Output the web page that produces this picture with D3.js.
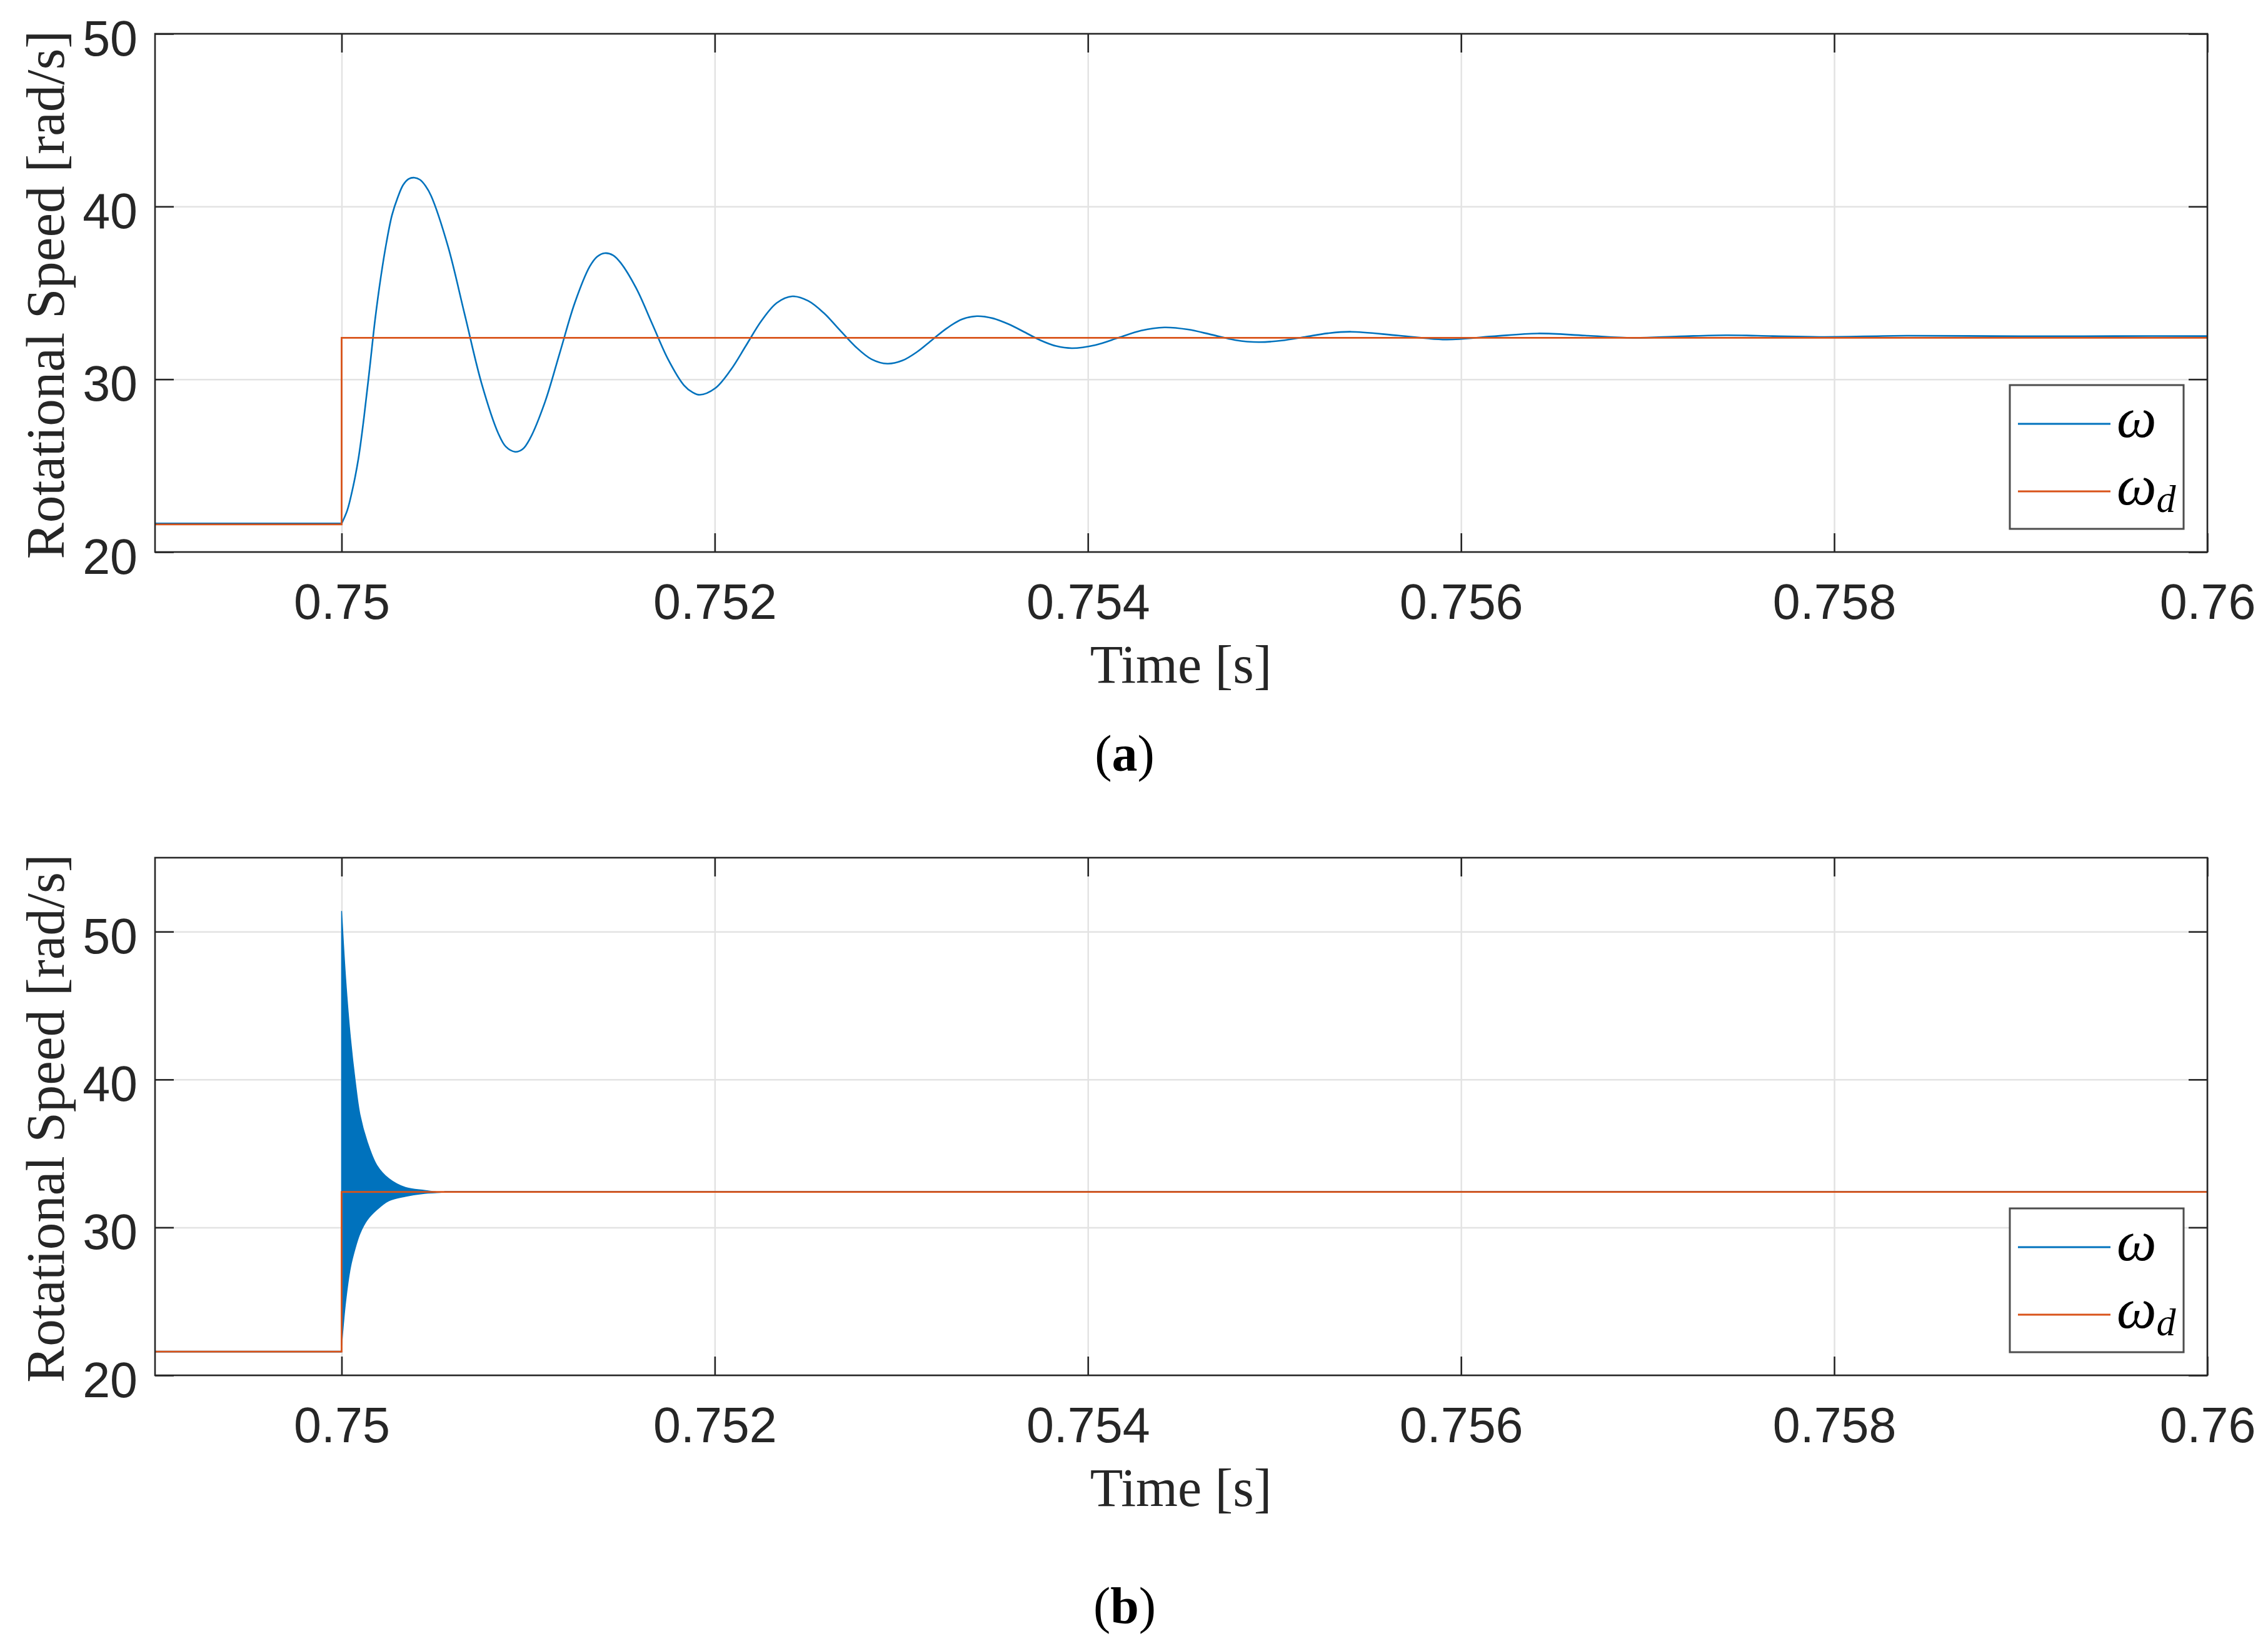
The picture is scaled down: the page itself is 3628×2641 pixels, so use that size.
<!DOCTYPE html>
<html>
<head>
<meta charset="utf-8">
<script src="https://cdn.jsdelivr.net/npm/d3@7"></script>
<style>
  html, body { margin: 0; padding: 0; background: #ffffff; }
  svg { display: block; }
</style>
</head>
<body>
<div id="chart"></div>
<script>
// ---------------- DATA ----------------
const timeTicks = [0.75, 0.752, 0.754, 0.756, 0.758, 0.76];
const timeTickLabels = ["0.75", "0.752", "0.754", "0.756", "0.758", "0.76"];
const speedTicksA = [20, 30, 40, 50];
const speedTicksB = [20, 30, 40, 50];
const seriesNames = ["\u03c9", "\u03c9d"];

const timeA = [0.749, 0.75,
  0.75003, 0.75006, 0.75009, 0.75012, 0.75015, 0.75018, 0.75021, 0.75024, 0.75027, 0.7503, 0.75033, 0.75036, 0.75039,
  0.75042, 0.75045, 0.75048, 0.75057, 0.75066, 0.75075, 0.75084, 0.75088, 0.75093,
  0.75097, 0.75101, 0.75109, 0.75117, 0.75125, 0.75133, 0.75137, 0.75141,
  0.751455, 0.751495, 0.75158, 0.751665, 0.75175, 0.751835, 0.75188, 0.75192,
  0.7520025, 0.752085, 0.7521675, 0.75225, 0.7523325, 0.752415,
  0.7525, 0.752585, 0.75267, 0.752755, 0.75284, 0.752925,
  0.753005, 0.753085, 0.753165, 0.753245, 0.753325, 0.753405,
  0.75349, 0.753575, 0.75366, 0.753745, 0.75383, 0.753915,
  0.75404, 0.754163, 0.754286, 0.75441,
  0.754536, 0.754663, 0.754789, 0.754915,
  0.755039, 0.755163, 0.755286, 0.75541,
  0.755665, 0.75592, 0.756165, 0.75641, 0.756665, 0.75692,
  0.75717, 0.75742, 0.75767, 0.75792, 0.7584, 0.759, 0.7595, 0.76];
const omegaA = [21.65, 21.65,
  22.4, 23.7, 25.4, 27.8, 30.6, 33.5, 35.9, 37.9, 39.5, 40.5, 41.25, 41.6, 41.67,
  41.55, 41.19, 40.61, 37.7, 33.74, 29.77, 26.86, 26.1, 25.8,
  25.95, 26.57, 28.68, 31.55, 34.43, 36.53, 37.1, 37.3,
  37.18, 36.75, 35.25, 33.2, 31.15, 29.65, 29.25, 29.1,
  29.48, 30.53, 31.95, 33.38, 34.42, 34.8,
  34.54, 33.83, 32.85, 31.88, 31.16, 30.9,
  31.08, 31.59, 32.28, 32.96, 33.47, 33.65,
  33.53, 33.19, 32.73, 32.26, 31.92, 31.8,
  31.98, 32.4, 32.82, 33.0,
  32.88, 32.58, 32.27, 32.15,
  32.24, 32.45, 32.66, 32.75,
  32.53, 32.3, 32.48, 32.65, 32.53, 32.4,
  32.48, 32.55, 32.5, 32.45, 32.52, 32.49, 32.5, 32.5];

// Reference speed omega_d (both panels)
const timeRef = [0.749, 0.75, 0.75, 0.76];
const omegaRef = [21.6, 21.6, 32.4, 32.4];

// Panel (b): envelope of the fast oscillation of omega
const timeEnvB = [0.75, 0.7500218, 0.7500475, 0.750073, 0.7500988, 0.750137, 0.750189,
  0.750253, 0.750342, 0.750445, 0.75051, 0.75055];
const upperB = [51.4, 46.8, 42.8, 39.9, 37.6, 35.8, 34.2, 33.3, 32.7, 32.5, 32.4, 32.4];
const lowerB = [22.0, 25.0, 27.3, 28.6, 29.6, 30.5, 31.2, 31.8, 32.1, 32.3, 32.35, 32.4];
// omega outside the envelope (null = inside the oscillating band)
const timeB = [0.749, 0.75, 0.75, 0.75055, 0.76];
const omegaB = [21.6, 21.6, null, 32.4, 32.4];

// ---------------- LAYOUT ----------------
const W = 3628, H = 2641;
const left = 248, right = 3531;
const BLUE = "#0072BD", ORANGE = "#D95319", AXC = "#262626";

const svg = d3.select("#chart").append("svg")
  .attr("width", W).attr("height", H)
  .attr("viewBox", `0 0 ${W} ${H}`);
svg.append("rect").attr("width", W).attr("height", H).attr("fill", "#fff");

const x = d3.scaleLinear().domain([0.749, 0.76]).range([left, right]);

const panels = [
  { top: 54, bottom: 883, domain: [20, 50], ticks: speedTicksA, cap: "a", capY: 1233, xlabY: 1092 },
  { top: 1372, bottom: 2200, domain: [20, 55], ticks: speedTicksB, cap: "b", capY: 2596, xlabY: 2409 }
];

panels.forEach((p, i) => {
  const y = d3.scaleLinear().domain(p.domain).range([p.bottom, p.top]);
  const g = svg.append("g");
  const h = p.bottom - p.top;
  const clipId = "clip" + i;
  svg.append("clipPath").attr("id", clipId).append("rect")
    .attr("x", left).attr("y", p.top).attr("width", right - left).attr("height", h);

  // grid
  const gx = g.append("g").attr("transform", `translate(0,${p.bottom})`)
    .call(d3.axisBottom(x).tickValues(timeTicks).tickSize(-h).tickFormat(""));
  const gy = g.append("g").attr("transform", `translate(${left},0)`)
    .call(d3.axisLeft(y).tickValues(p.ticks).tickSize(-(right - left)).tickFormat(""));
  [gx, gy].forEach(a => {
    a.select(".domain").remove();
    a.selectAll("line").attr("stroke", "#e3e3e3").attr("stroke-width", 2.5);
  });

  // data
  const plot = g.append("g").attr("clip-path", `url(#${clipId})`);
  if (i === 0) {
    const pts = timeA.map((t, k) => [t, omegaA[k]]);
    const pre = pts.filter(d => d[0] <= 0.75);
    const post = pts.filter(d => d[0] >= 0.75);
    const dPre = d3.line().x(d => x(d[0])).y(d => y(d[1]))(pre);
    const dPost = d3.line().x(d => x(d[0])).y(d => y(d[1])).curve(d3.curveCatmullRom.alpha(0.5))(post);
    plot.append("path")
      .attr("d", dPre + dPost.replace(/^M/, "L"))
      .attr("fill", "none").attr("stroke", BLUE).attr("stroke-width", 2.6)
      .attr("stroke-linejoin", "round");
  } else {
    plot.append("path")
      .datum(timeB.map((t, k) => [t, omegaB[k]]))
      .attr("d", d3.line().defined(d => d[1] !== null).x(d => x(d[0])).y(d => y(d[1])))
      .attr("fill", "none").attr("stroke", BLUE).attr("stroke-width", 2.6);
    const area = d3.area().x(d => x(d[0])).y0(d => y(d[2])).y1(d => y(d[1]))
      .curve(d3.curveCatmullRom.alpha(0.5));
    plot.append("path")
      .datum(timeEnvB.map((t, k) => [t, upperB[k], lowerB[k]]))
      .attr("d", area)
      .attr("fill", BLUE).attr("stroke", BLUE).attr("stroke-width", 1.5);
  }
  plot.append("path")
    .datum(timeRef.map((t, k) => [t, omegaRef[k]]))
    .attr("d", d3.line().x(d => x(d[0])).y(d => y(d[1])))
    .attr("fill", "none").attr("stroke", ORANGE).attr("stroke-width", 2.8);

  // axes box
  g.append("rect").attr("x", left).attr("y", p.top).attr("width", right - left).attr("height", h)
    .attr("fill", "none").attr("stroke", AXC).attr("stroke-width", 2.6);

  // ticks (inside) on four sides
  const tl = 30;
  const axB = g.append("g").attr("transform", `translate(0,${p.bottom})`)
    .call(d3.axisBottom(x).tickValues(timeTicks).tickSizeInner(-tl).tickSizeOuter(0)
      .tickPadding(0).tickFormat((d, k) => timeTickLabels[k]));
  const axT = g.append("g").attr("transform", `translate(0,${p.top})`)
    .call(d3.axisTop(x).tickValues(timeTicks).tickSizeInner(-tl).tickSizeOuter(0).tickFormat(""));
  const axL = g.append("g").attr("transform", `translate(${left},0)`)
    .call(d3.axisLeft(y).tickValues(p.ticks).tickSizeInner(-tl).tickSizeOuter(0).tickPadding(0)
      .tickFormat(d3.format("d")));
  const axR = g.append("g").attr("transform", `translate(${right},0)`)
    .call(d3.axisRight(y).tickValues(p.ticks).tickSizeInner(-tl).tickSizeOuter(0).tickFormat(""));
  [axB, axT, axL, axR].forEach(a => {
    a.select(".domain").remove();
    a.selectAll("line").attr("stroke", AXC).attr("stroke-width", 2.6);
  });
  axB.selectAll("text")
    .attr("y", 107).attr("dy", null)
    .attr("font-family", "'Liberation Sans', Arial, Helvetica, sans-serif")
    .attr("font-size", 79).attr("fill", AXC);
  axL.selectAll("text")
    .attr("x", -28).attr("dy", null).attr("y", 34)
    .attr("font-family", "'Liberation Sans', Arial, Helvetica, sans-serif")
    .attr("font-size", 79).attr("fill", AXC);

  // axis labels
  g.append("text")
    .attr("transform", `translate(102,${(p.top + p.bottom) / 2 + 3}) rotate(-90)`)
    .attr("text-anchor", "middle")
    .attr("font-family", "'Liberation Serif', 'Times New Roman', serif")
    .attr("font-size", 87).attr("fill", AXC)
    .text("Rotational Speed [rad/s]");
  g.append("text")
    .attr("x", 1889).attr("y", p.xlabY)
    .attr("text-anchor", "middle")
    .attr("font-family", "'Liberation Serif', 'Times New Roman', serif")
    .attr("font-size", 86).attr("fill", AXC)
    .text("Time [s]");

  // caption
  const cap = svg.append("text")
    .attr("x", 1799).attr("y", p.capY).attr("text-anchor", "middle")
    .attr("font-family", "'Liberation Serif', 'Times New Roman', serif")
    .attr("font-size", 82).attr("fill", "#000");
  cap.append("tspan").text("(");
  cap.append("tspan").attr("font-weight", "bold").text(p.cap);
  cap.append("tspan").text(")");

  // legend
  const lx = 3215, lw = 278, lh = 230, ly = p.bottom - 37 - lh;
  const lg = g.append("g").attr("transform", `translate(${lx},${ly})`);
  lg.append("rect").attr("width", lw).attr("height", lh)
    .attr("fill", "#fff").attr("stroke", "#4d4d4d").attr("stroke-width", 3);
  const rows = [{ c: BLUE, yy: 62 }, { c: ORANGE, yy: 170 }];
  rows.forEach((r, k) => {
    lg.append("line").attr("x1", 13).attr("x2", 161).attr("y1", r.yy).attr("y2", r.yy)
      .attr("stroke", r.c).attr("stroke-width", 3);
    const t = lg.append("text").attr("x", 171).attr("y", r.yy + 21)
      .attr("font-family", "'Liberation Serif', 'Times New Roman', serif")
      .attr("font-style", "italic").attr("font-size", 90).attr("fill", "#000");
    t.append("tspan").text(seriesNames[k].charAt(0));
    if (seriesNames[k].length > 1) {
      t.append("tspan").attr("font-size", 62).attr("dy", 12).text(seriesNames[k].slice(1));
    }
  });
});
</script>
</body>
</html>
